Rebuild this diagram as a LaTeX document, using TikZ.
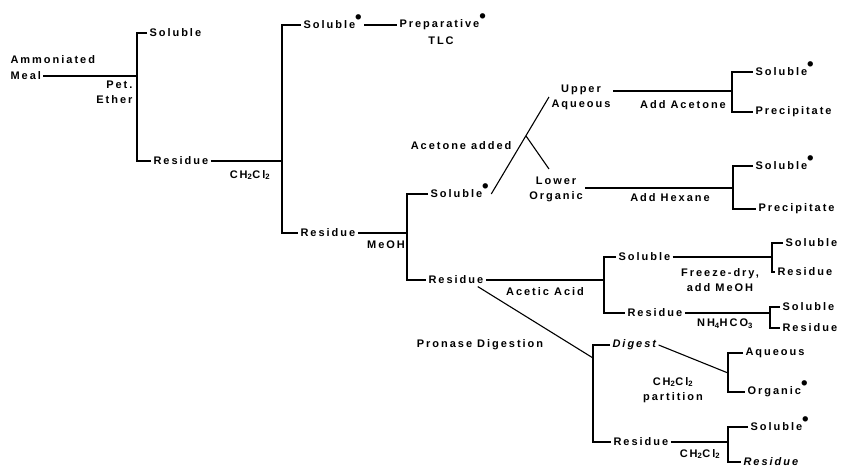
\documentclass[tikz,border=0pt]{standalone}
\usepackage{fontspec}
\setmainfont{Liberation Sans}
\newfontfamily\spcfont{Liberation Sans}[LetterSpace=18]
\usetikzlibrary{positioning,calc}
\newcommand{\dotstar}{\smash{\raisebox{0.9ex}{\scalebox{1.7}{\textbullet}}}}

\begin{document}
\begin{tikzpicture}[x=1pt, y=-1pt, line width=1.1pt,
    every node/.style={font={\spcfont\bfseries\fontsize{11}{15}\selectfont}, inner sep=2pt},
    lbl/.style={anchor=west},
    rgt/.style={font={\spcfont\bfseries\fontsize{11}{13}\selectfont}, inner sep=1pt}]
        \useasboundingbox (0,0) rectangle (843,470);

        % Nodes
        \node (meal) [lbl] at (8,76) {Meal};
        \node (ammon) [lbl] at (8,60) {Ammoniated};
        \node (pet) [anchor=east, align=right] at (135,92) {Pet.\\Ether};
        \coordinate (j1) at (137,76);
        \node (sol1) [lbl] at (147,33) {Soluble};
        \node (res1) [lbl] at (151,161) {Residue};

        \coordinate (j2) at (282,161);
        \node (rg1) [rgt] at (250,175) {CH\textsubscript{2}Cl\textsubscript{2}};
        \node (sol2) [lbl] at (301,25) {Soluble\dotstar};
        \node (prep) [lbl] at (397,25) {Preparative\dotstar};
        \node (tlc) at (441,41) {TLC};
        \node (res2) [lbl] at (298,233) {Residue};

        \coordinate (j3) at (407,233);
        \node (rg2) [rgt] at (386,245) {MeOH};
        \node (sol3) [lbl] at (428,194) {Soluble\dotstar};
        \node (res4) [lbl] at (426,280) {Residue};

        \node (upper) [align=center] at (581,97) {Upper\\Aqueous};
        \node (lower) [align=center] at (556,189) {Lower\\Organic};
        \node (acet) [anchor=east] at (514,146) {Acetone added};
        \coordinate (j5) at (732,91);
        \node (rg5) at (683,105) {Add Acetone};
        \node (sol5) [lbl] at (753,72) {Soluble\dotstar};
        \node (prec5) [lbl] at (753,112) {Precipitate};
        \coordinate (j6) at (733,188);
        \node (rg6) at (670,198) {Add Hexane};
        \node (sol6) [lbl] at (753,166) {Soluble\dotstar};
        \node (prec6) [lbl] at (756,209) {Precipitate};

        \coordinate (j7) at (604,280);
        \node (rg7) at (545,292) {Acetic Acid};
        \node (sol7) [lbl] at (616,257) {Soluble};
        \node (res7) [lbl] at (625,313) {Residue};
        \coordinate (j8) at (772,257);
        \node (rg8) [align=center] at (720,280) {Freeze-dry,\\add MeOH};
        \node (sol8) [lbl] at (783,243) {Soluble};
        \node (res8) [lbl] at (775,272) {Residue};
        \coordinate (j9) at (770,313);
        \node (rg9) [rgt] at (725,324) {NH\textsubscript{4}HCO\textsubscript{3}};
        \node (sol9) [lbl] at (780,307) {Soluble};
        \node (res9) [lbl] at (780,328) {Residue};

        \node (pron) at (480,345) {Pronase Digestion};
        \coordinate (j10) at (593,358);
        \node (dig) [lbl] at (610,345) {\itshape Digest};
        \node (res10) [lbl] at (611,442) {Residue};
        \coordinate (j11) at (728,373);
        \node (rg11) [align=center] at (673,390) {CH\textsubscript{2}Cl\textsubscript{2}\\partition};
        \node (aq) [lbl] at (743,353) {Aqueous};
        \node (org) [lbl] at (745,392) {Organic\dotstar};
        \coordinate (j12) at (728,442);
        \node (rg12) [rgt] at (700,454) {CH\textsubscript{2}Cl\textsubscript{2}};
        \node (sol12) [lbl] at (748,427) {Soluble\dotstar};
        \node (res12) [lbl] at (741,462) {\itshape Residue};

        % Lines
        \draw (meal) -- (j1);
        \draw (sol1.west) -| (j1) |- (res1.west);
        \draw (res1) -- (j2);
        \draw (sol2.west) -| (j2) |- (res2.west);
        \draw (sol2) -- (prep);
        \draw (res2) -- (j3);
        \draw (sol3.west) -| (j3) |- (res4.west);
        \draw (sol3.east) -- (upper.west);
        \coordinate (j4) at ($(sol3.east)!0.6!(upper.west)$);
        \draw (j4) -- ([xshift=-7pt, yshift=5pt]lower.north);
        \draw (j5 -| upper.east) -- (j5);
        \draw (sol5.west) -| (j5) |- (prec5.west);
        \draw (j6 -| lower.east) -- (j6);
        \draw (sol6.west) -| (j6) |- (prec6.west);
        \draw (res4) -- (j7);
        \draw (sol7.west) -| (j7) |- (res7.west);
        \draw (sol7) -- (j8 -| sol7.east) -- (j8);
        \draw (sol8.west) -| (j8) |- (res8.west);
        \draw (res7) -- (j9);
        \draw (sol9.west) -| (j9) |- (res9.west);
        \draw ([xshift=-8pt]res4.south east) -- (j10);
        \draw (dig.west) -| (j10) |- (res10.west);
        \draw (dig.east) -- (j11);
        \draw (aq.west) -| (j11) |- (org.west);
        \draw (res10) -- (j12);
        \draw (sol12.west) -| (j12) |- (res12.west);
\end{tikzpicture}
\end{document}
